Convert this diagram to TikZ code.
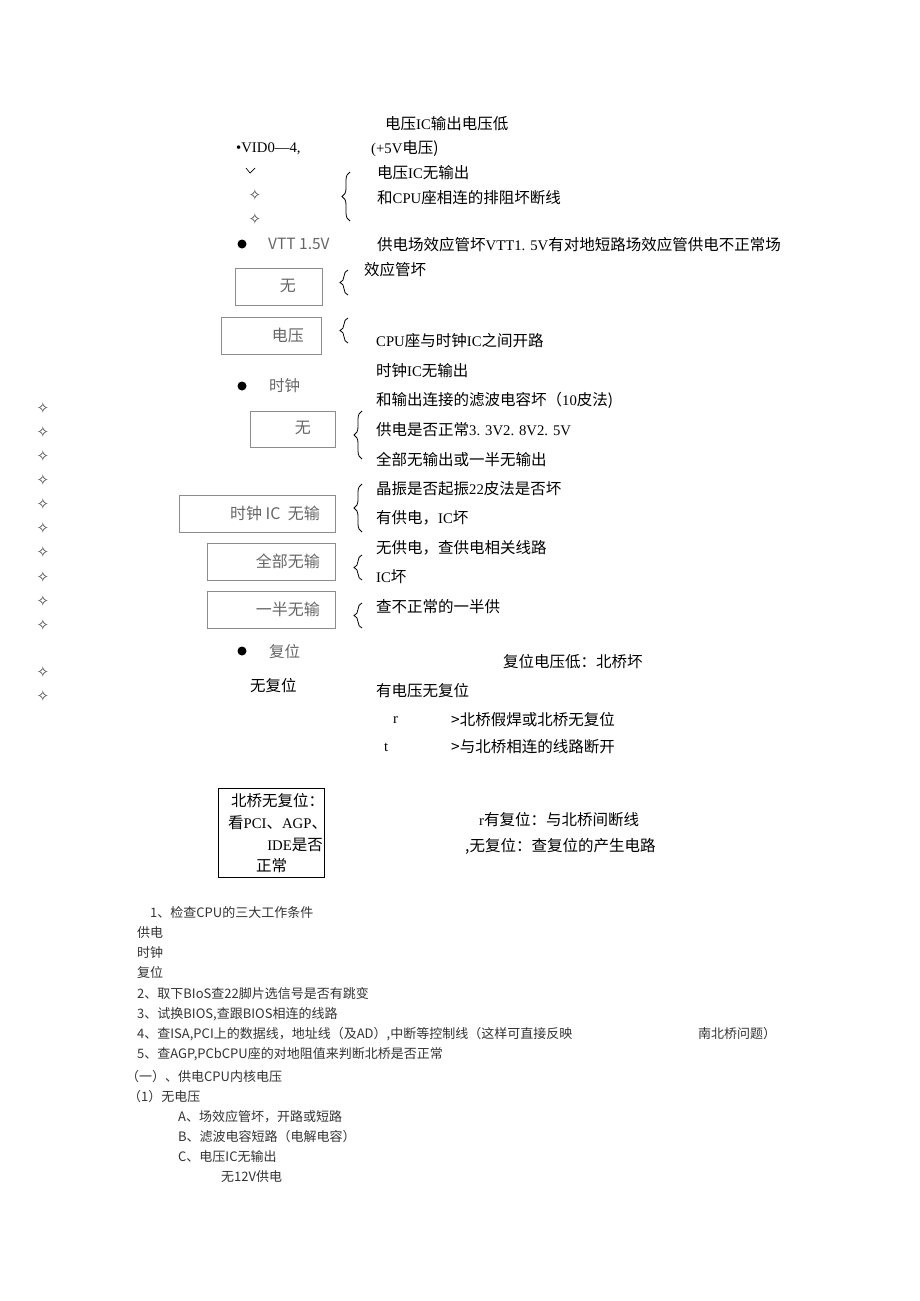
\documentclass[tikz,border=0pt]{standalone}
\usepackage{fontspec}
\setmainfont{Noto Sans CJK SC}
\newfontfamily\latser[Scale=0.95]{Liberation Serif}
\newfontfamily\symf{DejaVu Sans}
\usetikzlibrary{decorations.pathreplacing}
\newcommand\lser[1]{{\latser #1}}
\tikzset{
  txt/.style={anchor=west,inner sep=0pt,font=\fontsize{15.5}{15.5}\selectfont},
  gtxt/.style={txt,text=black!60},
  boxtxt/.style={anchor=east,inner sep=0pt,text=black!60,font=\fontsize{16}{16}\selectfont},
  smalltxt/.style={anchor=west,inner sep=0pt,text=black!80,font=\fontsize{13}{13}\selectfont},
  boxline/.style={draw=black!45,line width=1pt},
  curly/.style={decorate,decoration={brace,amplitude=8pt},line width=0.8pt},
  starmark/.style={inner sep=0pt,text=black!75,font=\symf\fontsize{15}{15}\selectfont},
}
\begin{document}
\begin{tikzpicture}[x=1pt,y=-1pt]
\useasboundingbox (0,0) rectangle (920,1301);
% power branch
\node[txt] (vlow) at (385,124) {电压\lser{IC}输出电压低};
\node[txt] (vid) at (236,149) {\lser{•VID0—4,}};
\node[txt] (plusfive) at (371,149) {\lser{(+5V}电压)};
\draw[line width=0.7pt] (246,168) -- (250,173) -- (255,168);
\node[starmark] (stA) at (255,195) {✧};
\node[starmark] (stB) at (255,219) {✧};
\draw[curly] (350,221) -- (350,172);
\node[txt] (vnone) at (377,173) {电压\lser{IC}无输出};
\node[txt] (rnet) at (377,198) {和\lser{CPU}座相连的排阻坏断线};
\fill (242,244) circle (4.5);
\node[gtxt] (vtt) at (268,244) {VTT 1.5V};
\node[txt] (fet) at (377,245) {供电场效应管坏\lser{VTT1. 5V}有对地短路场效应管供电不正常场};
\draw[boxline] (235,268) rectangle (322,305);
\node[boxtxt] (noneA) at (296,286) {无};
\draw[curly] (348,295) -- (348,270);
\node[txt] (fetbad) at (364,270) {效应管坏};
\draw[boxline] (221,317) rectangle (321,354);
\node[boxtxt] (volt) at (304,335) {电压};
\draw[curly] (348,343) -- (348,318);
\node[txt] (open) at (376,341) {\lser{CPU}座与时钟\lser{IC}之间开路};
% clock branch
\fill (242,386) circle (4.5);
\node[gtxt] (clk) at (269,386) {时钟};
\node[txt] (cnone) at (376,371) {时钟\lser{IC}无输出};
\node[txt] (cap) at (376,400) {和输出连接的滤波电容坏（\lser{10}皮法)};
\draw[boxline] (250,411) rectangle (335,447);
\node[boxtxt] (noneB) at (311,428) {无};
\draw[curly] (362,459) -- (362,411);
\node[txt] (pwrok) at (376,430) {供电是否正常\lser{3. 3V2. 8V2. 5V}};
\node[txt] (allhalf) at (376,460) {全部无输出或一半无输出};
\draw[boxline] (179,495) rectangle (335,532);
\node[boxtxt] (clkic) at (320,513) {时钟 IC\ \ 无输};
\draw[curly] (362,532) -- (362,484);
\node[txt] (xtal) at (376,489) {晶振是否起振\lser{22}皮法是否坏};
\node[txt] (icbadA) at (376,518) {有供电，\lser{IC}坏};
\draw[boxline] (207,543) rectangle (335,580);
\node[boxtxt] (allno) at (320,561) {全部无输};
\draw[curly] (362,580) -- (362,555);
\node[txt] (nopwr) at (376,548) {无供电，查供电相关线路};
\node[txt] (icbadB) at (376,577) {\lser{IC}坏};
\draw[boxline] (207,591) rectangle (335,628);
\node[boxtxt] (halfno) at (320,609) {一半无输};
\draw[curly] (362,628) -- (362,603);
\node[txt] (halfchk) at (376,607) {查不正常的一半供};
% left marks
\foreach \y in {408,432,456,480,504,528,552,577,601,625,672,696}
  \node[starmark] (lm\y) at (43,\y) {✧};
% reset branch
\fill (242,651) circle (4.5);
\node[gtxt] (rst) at (269,652) {复位};
\node[txt] (rstlow) at (503,662) {复位电压低：北桥坏};
\node[txt] (norst) at (250,686) {无复位};
\node[txt] (vnorst) at (376,691) {有电压无复位};
\node[txt] (rr) at (393,720) {\lser{r}};
\node[txt] (nbsolder) at (451,720) {>北桥假焊或北桥无复位};
\node[txt] (tt) at (384,747) {\lser{t}};
\node[txt] (nbline) at (451,747) {>与北桥相连的线路断开};
\draw[line width=0.9pt] (218,788) rectangle (324,877);
\node[txt] (nbA) at (231,801) {北桥无复位：};
\node[txt] (nbB) at (228,823) {看\lser{PCI}、\lser{AGP}、};
\node[txt,anchor=east] (nbC) at (323,845) {\lser{IDE}是否};
\node[txt] (nbD) at (256,866) {正常};
\node[txt] (hasrst) at (479,820) {\lser{r}有复位：与北桥间断线};
\node[txt] (nogen) at (465,846) {,无复位：查复位的产生电路};
% notes
\node[smalltxt] (nA) at (150,913) {1、检查CPU的三大工作条件};
\node[smalltxt] (nB) at (137,933) {供电};
\node[smalltxt] (nC) at (137,953) {时钟};
\node[smalltxt] (nD) at (137,973) {复位};
\node[smalltxt] (nE) at (137,994) {2、取下BIoS查22脚片选信号是否有跳变};
\node[smalltxt] (nF) at (137,1014) {3、试换BIOS,查跟BIOS相连的线路};
\node[smalltxt] (nG) at (137,1034) {4、查ISA,PCI上的数据线，地址线（及AD）,中断等控制线（这样可直接反映};
\node[smalltxt] (nH) at (698,1034) {南北桥问题）};
\node[smalltxt] (nI) at (137,1054) {5、查AGP,PCbCPU座的对地阻值来判断北桥是否正常};
\node[smalltxt] (nJ) at (126,1077) {（一）、供电CPU内核电压};
\node[smalltxt] (nK) at (128,1097) {（1）无电压};
\node[smalltxt] (nL) at (178,1117) {A、场效应管坏，开路或短路};
\node[smalltxt] (nM) at (178,1137) {B、滤波电容短路（电解电容）};
\node[smalltxt] (nN) at (178,1157) {C、电压IC无输出};
\node[smalltxt] (nO) at (221,1177) {无12V供电};
\end{tikzpicture}
\end{document}
